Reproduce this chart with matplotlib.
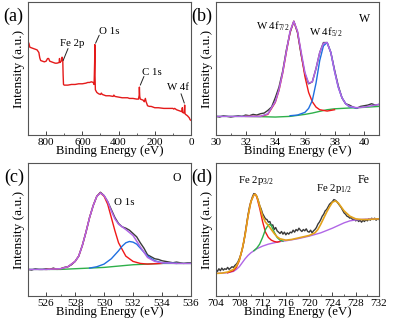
import numpy as np
import matplotlib
matplotlib.use("Agg")
import matplotlib.pyplot as plt

plt.rcParams['font.family'] = ['Liberation Serif', 'DejaVu Serif']
plt.rcParams['mathtext.fontset'] = 'custom'
plt.rcParams['mathtext.rm'] = 'Liberation Serif'
plt.rcParams['mathtext.it'] = 'Liberation Serif:italic'

# (a) survey
a_x = [900, 895, 890, 880, 870, 860, 850, 845, 840, 835, 830, 820, 810, 800, 792, 786, 780, 770,
       760, 750, 740, 728, 726, 724, 720, 714, 712, 710, 708, 706, 704, 700, 680, 660, 640, 620,
       600, 580, 570, 560, 550, 540, 535, 532, 531, 530, 528, 520, 510, 500, 495, 490, 470, 450,
       430, 426, 420, 400, 380, 350, 340, 320, 300, 290, 286, 285, 283, 280, 270, 262, 258, 252,
       248, 245, 240, 230, 220, 200, 180, 150, 120, 100, 95, 90, 80, 70, 60, 50, 48, 46, 40, 37,
       35, 33, 30, 20, 10, 5, 0]
a_y = [0.70, 0.69, 0.66, 0.655, 0.65, 0.645, 0.64, 0.63, 0.62, 0.58, 0.56, 0.555, 0.55, 0.555,
       0.575, 0.575, 0.555, 0.55, 0.545, 0.54, 0.54, 0.545, 0.575, 0.545, 0.55, 0.56, 0.585, 0.58,
       0.56, 0.45, 0.38, 0.375, 0.375, 0.38, 0.38, 0.385, 0.385, 0.39, 0.395, 0.395, 0.40, 0.395,
       0.38, 0.55, 0.68, 0.45, 0.34, 0.32, 0.31, 0.305, 0.315, 0.305, 0.295, 0.295, 0.29, 0.30,
       0.29, 0.285, 0.28, 0.28, 0.275, 0.275, 0.27, 0.27, 0.30, 0.36, 0.29, 0.27, 0.265, 0.26,
       0.25, 0.275, 0.25, 0.24, 0.22, 0.215, 0.215, 0.205, 0.205, 0.20, 0.20, 0.20, 0.195, 0.20,
       0.19, 0.185, 0.18, 0.175, 0.205, 0.17, 0.165, 0.175, 0.225, 0.16, 0.155, 0.145, 0.13,
       0.115, 0.11]

# (b) W 4f
b_raw = [0.14, 0.135, 0.145, 0.14, 0.135, 0.14, 0.145, 0.14, 0.15, 0.145, 0.155, 0.15,
         0.16, 0.165, 0.185, 0.21, 0.28, 0.36, 0.48, 0.64, 0.77, 0.855, 0.77, 0.60,
         0.46, 0.385, 0.40, 0.50, 0.62, 0.695, 0.695, 0.62, 0.49, 0.37, 0.28, 0.235,
         0.225, 0.21, 0.20, 0.215, 0.22, 0.225, 0.235, 0.225, 0.23]
b_fit_x = [30, 31, 32, 33, 33.5, 34, 34.25, 34.5, 34.75, 35, 35.25, 35.5, 35.75, 36, 36.25,
           36.5, 36.75, 37, 37.25, 37.5, 37.75, 38, 38.25, 38.5, 38.75, 39, 39.5, 40, 40.5, 41]
b_env = [0.14, 0.14, 0.14, 0.14, 0.16, 0.25, 0.34, 0.47, 0.63, 0.78, 0.855, 0.78, 0.62, 0.47,
         0.39, 0.40, 0.50, 0.62, 0.69, 0.695, 0.62, 0.48, 0.36, 0.28, 0.235, 0.215, 0.205,
         0.21, 0.22, 0.23]
b_red_x = [32, 33, 33.5, 34, 34.25, 34.5, 34.75, 35, 35.25, 35.5, 35.75, 36, 36.25, 36.5,
           36.75, 37, 37.5, 38]
b_red = [0.14, 0.14, 0.155, 0.245, 0.335, 0.465, 0.625, 0.775, 0.855, 0.775, 0.61, 0.44,
         0.32, 0.25, 0.21, 0.19, 0.18, 0.19]
b_blue_x = [35, 35.5, 36, 36.25, 36.5, 36.75, 37, 37.25, 37.5, 37.75, 38, 38.25, 38.5,
            38.75, 39, 39.5]
b_blue = [0.145, 0.15, 0.17, 0.2, 0.26, 0.39, 0.56, 0.67, 0.695, 0.62, 0.48, 0.36, 0.28,
          0.235, 0.212, 0.203]
b_bg_x = [30, 32, 33, 34, 35, 36, 36.5, 37, 37.5, 38, 38.5, 39, 40, 41]
b_bg = [0.14, 0.14, 0.138, 0.135, 0.14, 0.155, 0.165, 0.178, 0.19, 0.197, 0.2, 0.203,
        0.208, 0.215]

# (c) O 1s
c_raw = [0.2, 0.195, 0.205, 0.2, 0.2,
         0.205, 0.2, 0.21, 0.2, 0.205, 0.215, 0.22, 0.235, 0.26, 0.30, 0.38, 0.48,
         0.59, 0.68, 0.75, 0.78, 0.755, 0.71, 0.65, 0.59, 0.545, 0.52, 0.51, 0.495,
         0.47, 0.445, 0.40, 0.36, 0.31, 0.295, 0.28, 0.275, 0.265, 0.26, 0.255, 0.25,
         0.255, 0.25, 0.245, 0.25, 0.25]
c_fit_x = [524.75, 526, 527, 527.5, 528, 528.25, 528.5, 528.75, 529, 529.25, 529.5, 529.75,
           530, 530.25, 530.5, 530.75, 531, 531.5, 532, 532.5, 533, 533.5, 534, 535, 536]
c_env = [0.2, 0.2, 0.205, 0.22, 0.26, 0.30, 0.38, 0.48, 0.59, 0.68, 0.75, 0.775, 0.755,
         0.71, 0.64, 0.58, 0.54, 0.50, 0.455, 0.37, 0.29, 0.26, 0.25, 0.245, 0.245]
c_red_x = [526, 527, 527.5, 528, 528.25, 528.5, 528.75, 529, 529.25, 529.5, 529.75, 530,
           530.25, 530.5, 530.75, 531, 531.5, 532, 532.5, 533, 534]
c_red = [0.2, 0.205, 0.22, 0.26, 0.30, 0.38, 0.48, 0.59, 0.68, 0.75, 0.775, 0.75, 0.69,
         0.59, 0.49, 0.40, 0.30, 0.26, 0.245, 0.24, 0.245]
c_blue_x = [529, 529.5, 530, 530.5, 531, 531.25, 531.5, 531.75, 532, 532.25, 532.5, 533,
            533.5, 534, 535]
c_blue = [0.21, 0.22, 0.24, 0.28, 0.34, 0.375, 0.40, 0.41, 0.405, 0.39, 0.36, 0.30, 0.265,
          0.25, 0.245]
c_bg_x = [524.75, 527, 528, 529, 530, 531, 532, 533, 534, 536]
c_bg = [0.2, 0.2, 0.205, 0.21, 0.215, 0.225, 0.235, 0.24, 0.245, 0.245]

# (d) Fe 2p
d_raw = [0.20, 0.185, 0.205, 0.19, 0.21, 0.195, 0.205, 0.2, 0.215, 0.2, 0.21, 0.22,
         0.215, 0.23, 0.24, 0.255, 0.28, 0.31, 0.35, 0.40, 0.47, 0.54, 0.61, 0.67,
         0.71, 0.745, 0.77, 0.765, 0.75, 0.72, 0.68, 0.655, 0.62, 0.60, 0.58, 0.575,
         0.555, 0.56, 0.53, 0.535, 0.50, 0.515, 0.49, 0.48, 0.47, 0.485, 0.465, 0.48,
         0.46, 0.475, 0.465, 0.48, 0.475, 0.495, 0.48, 0.50, 0.49, 0.51, 0.495, 0.485,
         0.50, 0.49, 0.505, 0.485, 0.48, 0.495, 0.475, 0.49, 0.50, 0.515, 0.54, 0.555,
         0.575, 0.60, 0.615, 0.64, 0.65, 0.67, 0.69, 0.70, 0.71, 0.725, 0.72, 0.71,
         0.695, 0.68, 0.665, 0.645, 0.625, 0.615, 0.60, 0.595, 0.585, 0.59, 0.57, 0.58,
         0.565, 0.575, 0.56, 0.57, 0.555, 0.57, 0.56, 0.575, 0.565, 0.58, 0.57, 0.585,
         0.575, 0.585, 0.57, 0.58, 0.575]
d_env_x = [704, 705, 706, 707, 707.5, 708, 708.5, 709, 709.5, 710, 710.5, 710.75, 711,
           711.5, 712, 712.5, 713, 713.5, 714, 714.5, 715, 716, 717, 718, 719, 720, 721,
           721.5, 722, 722.5, 723, 723.5, 724, 724.5, 725, 725.5, 726, 727, 728, 729, 730,
           731, 732]
d_env = [0.17, 0.172, 0.18, 0.2, 0.225, 0.27, 0.35, 0.46, 0.6, 0.71, 0.76, 0.765, 0.75,
         0.68, 0.60, 0.555, 0.53, 0.5, 0.47, 0.445, 0.43, 0.42, 0.425, 0.435, 0.445, 0.455,
         0.475, 0.50, 0.54, 0.585, 0.63, 0.67, 0.705, 0.715, 0.70, 0.67, 0.64, 0.60, 0.58,
         0.575, 0.575, 0.578, 0.58]
d_bg_x = [704, 705, 706, 707, 707.5, 708, 708.5, 709, 709.5, 710, 711, 712, 713, 714, 715,
          716, 718, 720, 722, 724, 725, 726, 727, 728, 729, 730, 731, 732]
d_bg = [0.17, 0.172, 0.175, 0.185, 0.2, 0.22, 0.25, 0.28, 0.305, 0.325, 0.355, 0.375, 0.39,
        0.40, 0.41, 0.415, 0.43, 0.45, 0.475, 0.51, 0.53, 0.55, 0.565, 0.572, 0.576, 0.578,
        0.58, 0.58]
d_red_x = [706, 707, 707.5, 708, 708.5, 709, 709.5, 710, 710.5, 710.75, 711, 711.5, 712,
           712.5, 713, 713.5, 714, 714.5, 715]
d_red = [0.175, 0.19, 0.215, 0.265, 0.35, 0.46, 0.6, 0.71, 0.76, 0.765, 0.745, 0.66, 0.56,
         0.48, 0.44, 0.42, 0.41, 0.405, 0.41]
d_grn_x = [710.5, 711, 711.5, 712, 712.5, 713, 713.25, 713.5, 714, 714.5, 715, 715.5]
d_grn = [0.34, 0.36, 0.39, 0.44, 0.50, 0.535, 0.54, 0.53, 0.48, 0.44, 0.42, 0.412]

RAW = '#3a3a3a'
RED = '#f01818'
BLUE = '#1f6fe0'
GREEN = '#2eb04a'
PURPLE = '#b066e6'
ORANGE = '#e3a21a'

fig = plt.figure(figsize=(4.02, 3.22), dpi=100)
W, H = 402.0, 322.0
ax_a = fig.add_axes([28/W, 1-135/H, 163/W, 133/H])
ax_b = fig.add_axes([216/W, 1-135/H, 163/W, 133/H])
ax_c = fig.add_axes([28/W, 1-296/H, 163/W, 133/H])
ax_d = fig.add_axes([216/W, 1-296/H, 163/W, 133/H])


def style(ax, xlim, major, minor):
    ax.set_xlim(*xlim)
    ax.set_ylim(0, 1)
    ax.set_yticks([])
    ax.set_xticks(major)
    ax.set_xticks(minor, minor=True)
    ax.tick_params(axis='x', which='both', direction='in', labelsize=8, pad=2,
                   color='#444444', top=False)
    ax.tick_params(axis='x', which='major', length=3, width=0.7)
    ax.tick_params(axis='x', which='minor', length=1.5, width=0.6)
    for s in ax.spines.values():
        s.set_color('#555555')
        s.set_linewidth(0.8)
    ax.set_xlabel('Binding Energy (eV)', fontsize=9.2, labelpad=-1)
    ax.set_ylabel('Intensity (a.u.)', fontsize=9.5, labelpad=2)


# (a)
ax_a.plot(a_x, a_y, color='#e41a1a', lw=1.0)
style(ax_a, (900, 0), [800, 600, 400, 200, 0], [700, 500, 300, 100])
line = dict(arrowstyle='-', color='#222222', lw=0.7, shrinkA=0, shrinkB=0)
ax_a.annotate('', xy=(706, 0.56), xytext=(679, 0.65), arrowprops=line)
ax_a.text(656, 0.69, 'Fe 2p', fontsize=7.8, ha='center', va='center')
ax_a.annotate('', xy=(527, 0.69), xytext=(507, 0.75), arrowprops=line)
ax_a.text(452, 0.775, 'O 1s', fontsize=7.8, ha='center', va='center')
ax_a.annotate('', xy=(280, 0.375), xytext=(260, 0.44), arrowprops=line)
ax_a.text(215, 0.47, 'C 1s', fontsize=7.8, ha='center', va='center')
ax_a.annotate('', xy=(37, 0.24), xytext=(55, 0.31), arrowprops=line)
ax_a.text(72, 0.355, 'W 4f', fontsize=7.8, ha='center', va='center')

# (b)
ax_b.plot(np.arange(30, 41.01, 0.25), b_raw, color=RAW, lw=1.0)
ax_b.plot(b_bg_x, b_bg, color=GREEN, lw=1.0)
ax_b.plot(b_red_x, b_red, color=RED, lw=1.0)
ax_b.plot(b_blue_x, b_blue, color=BLUE, lw=1.0)
ax_b.plot(b_fit_x, b_env, color=PURPLE, lw=1.1)
style(ax_b, (30, 41), [30, 32, 34, 36, 38, 40], [31, 33, 35, 37, 39, 41])
ax_b.text(33.8, 0.82, r'W 4f$_{\rm 7/2}$', fontsize=7.8, ha='center', va='center')
ax_b.text(37.4, 0.77, r'W 4f$_{\rm 5/2}$', fontsize=7.8, ha='center', va='center')
ax_b.text(40.0, 0.875, 'W', fontsize=8.5, ha='center', va='center')

# (c)
ax_c.plot(np.arange(524.75, 536.01, 0.25), c_raw, color=RAW, lw=1.0)
ax_c.plot(c_bg_x, c_bg, color=GREEN, lw=1.0)
ax_c.plot(c_red_x, c_red, color=RED, lw=1.0)
ax_c.plot(c_blue_x, c_blue, color=BLUE, lw=1.0)
ax_c.plot(c_fit_x, c_env, color=PURPLE, lw=1.1)
style(ax_c, (524.75, 536), [526, 528, 530, 532, 534, 536], [527, 529, 531, 533, 535])
ax_c.text(531.4, 0.70, 'O 1s', fontsize=7.8, ha='center', va='center')
ax_c.text(535.0, 0.885, 'O', fontsize=8.5, ha='center', va='center')

# (d)
ax_d.plot(np.arange(704, 732.01, 0.25), d_raw, color=RAW, lw=1.0)
ax_d.plot(d_bg_x, d_bg, color=PURPLE, lw=1.0)
ax_d.plot(d_red_x, d_red, color=RED, lw=1.0)
ax_d.plot(d_grn_x, d_grn, color=GREEN, lw=1.0)
ax_d.plot(d_env_x, d_env, color=ORANGE, lw=1.2)
style(ax_d, (704, 732), [704, 708, 712, 716, 720, 724, 728, 732],
      [706, 710, 714, 718, 722, 726, 730])
ax_d.text(710.9, 0.87, r'Fe 2p$_{\rm 3/2}$', fontsize=7.8, ha='center', va='center')
ax_d.text(724.2, 0.81, r'Fe 2p$_{\rm 1/2}$', fontsize=7.8, ha='center', va='center')
ax_d.text(729.4, 0.875, 'Fe', fontsize=8.5, ha='center', va='center')

for lab, x, y in [('(a)', 3, 16), ('(b)', 191, 16), ('(c)', 4, 177), ('(d)', 191, 177)]:
    fig.text(x/W, 1-y/H, lab, fontsize=13, ha='left', va='center')

fig.savefig('out.png', dpi=100)
